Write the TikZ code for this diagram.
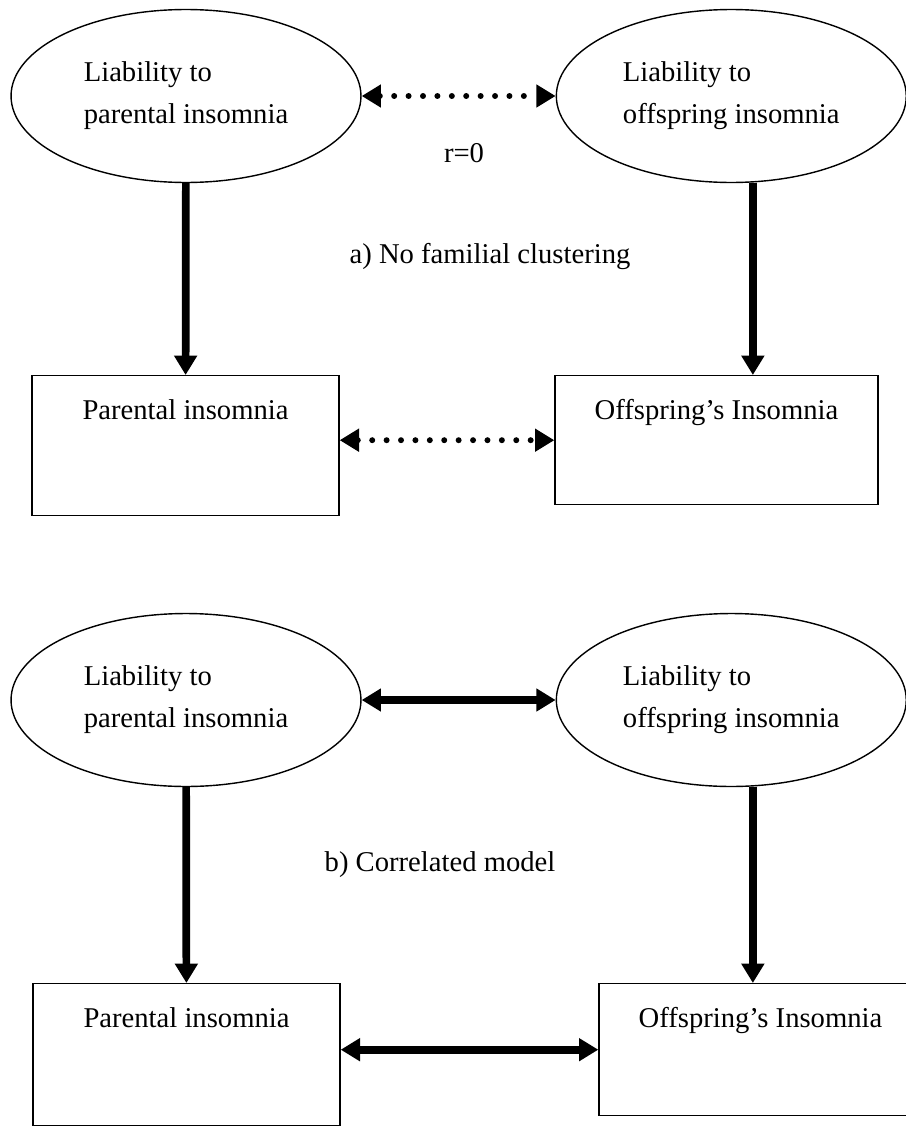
\documentclass[tikz,border=0pt]{standalone}
\usepackage{fontspec}
\setmainfont{Liberation Serif}
\usetikzlibrary{arrows.meta,positioning,shapes.geometric}
\tikzset{
  latent/.style={ellipse,draw,line width=0.8pt,align=left,inner sep=2pt,
    minimum width=7cm,minimum height=3.46cm},
  obsbox/.style={rectangle,draw,line width=0.8pt,inner sep=0pt,
    anchor=north,text height=0.87cm},
  arrow/.style={-{Triangle[length=11pt,width=12.5pt]},line width=4.4pt},
  biarrow/.style={{Triangle[length=11pt,width=12.5pt]}-{Triangle[length=11pt,width=12.5pt]},
    line width=4.4pt},
  dotarrow/.style={biarrow,line width=3.4pt,line cap=round,dash pattern=on 0pt off 8.2pt}
}

\begin{document}
\begin{tikzpicture}[x=0.02cm,y=-0.02cm,font=\fontsize{16.3}{23.8}\selectfont]
  \useasboundingbox (0,0) rectangle (906,1126);
  % a) no familial clustering
  \node[latent] (La) at (186,96) {Liability to\\parental insomnia};
  \node[latent,right=3.88cm of La] (Lb) {Liability to\\offspring insomnia};
  \node[obsbox,minimum width=6.14cm,text depth=1.93cm] (Pa) at (185.5,375) {Parental insomnia};
  \node[obsbox,minimum width=6.46cm,text depth=1.71cm] (Oa) at (716.5,375) {Offspring's Insomnia};
  \node (r) at (464,153) {r=0};
  \node (capa) at (490,257) {a) No familial clustering};
  \draw[dotarrow] (La) -- (Lb);
  \draw[dotarrow] (Oa.west -| Pa.east) -- (Oa.west);
  % b) correlated model
  \node[latent] (Lc) at (186,700) {Liability to\\parental insomnia};
  \node[latent,right=3.88cm of Lc] (Ld) {Liability to\\offspring insomnia};
  \node[obsbox,minimum width=6.14cm,text depth=1.97cm] (Pb) at (186.5,983) {Parental insomnia};
  \node[obsbox,minimum width=6.46cm,text depth=1.77cm] (Ob) at (760.5,983) {Offspring's Insomnia};
  \node (capb) at (440,865) {b) Correlated model};
  \draw[biarrow] (Lc) -- (Ld);
  \draw[biarrow] (Ob.west -| Pb.east) -- (Ob.west);
  % liabilities to observed insomnia
  \foreach \a/\b in {La/Pa,Lc/Pb} \draw[arrow] (\a)--(\b);
  \foreach \a/\b in {Lb/Oa,Ld/Ob} \draw[arrow] (\a.-76)--(\a.-76 |- \b.north);
\end{tikzpicture}
\end{document}
